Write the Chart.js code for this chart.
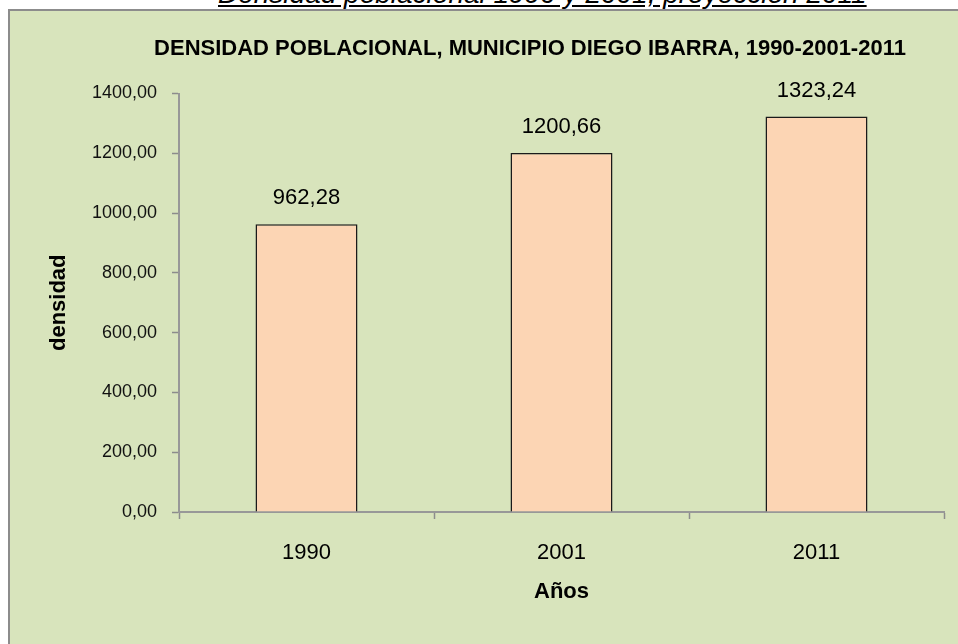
<!DOCTYPE html>
<html>
<head>
<meta charset="utf-8">
<script src="https://cdn.jsdelivr.net/npm/chart.js@4.4.1/dist/chart.umd.min.js"></script>
<style>
    html, body { margin: 0; padding: 0; background: #ffffff; }
    body { width: 958px; height: 644px; position: relative; overflow: hidden; }
    .top-caption {
        position: absolute; left: 218px; top: -20px;
        font: italic 28px "Liberation Sans", Arial, sans-serif;
        text-decoration: underline; white-space: nowrap; color: #000;
        line-height: 28px;
    }
    .frame {
        position: absolute; left: 8px; top: 9px; right: 0; bottom: 0;
        background: #d8e4bc;
        border-left: 2px solid #8c8c8c; border-top: 2px solid #8c8c8c;
    }
    .chart-wrap { position: absolute; left: 0; top: 0; width: 958px; height: 644px; }
</style>
</head>
<body>
<div class="top-caption">Densidad poblacional 1990 y 2001, proyección 2011</div>
<div class="frame"></div>
<div class="chart-wrap"><canvas id="chart-densidad"></canvas></div>
<script>
// Datos del gráfico
const anios = ["1990", "2001", "2011"];
const densidad = [962.28, 1200.66, 1323.24];
const yTicks = [0, 200, 400, 600, 800, 1000, 1200, 1400];

const tituloGrafico = "DENSIDAD POBLACIONAL, MUNICIPIO DIEGO IBARRA, 1990-2001-2011";
const tituloX = "Años";
const tituloY = "densidad";

const fmt = (v) => Number(v).toFixed(2).replace(".", ",");
const FONT = '"Liberation Sans", Arial, sans-serif';

// título del gráfico (en el original no está centrado en el lienzo)
const tituloPlugin = {
    id: "tituloPlugin",
    afterDraw(chart) {
        const ctx = chart.ctx;
        ctx.save();
        ctx.font = "bold 22px " + FONT;
        ctx.fillStyle = "#000";
        ctx.textAlign = "center";
        ctx.textBaseline = "middle";
        ctx.fillText(tituloGrafico, 530, 49);
        ctx.restore();
    }
};

// etiquetas de valor encima de cada barra
const valueLabels = {
    id: "valueLabels",
    afterDatasetsDraw(chart) {
        const ctx = chart.ctx;
        const meta = chart.getDatasetMeta(0);
        ctx.save();
        ctx.font = "22px " + FONT;
        ctx.fillStyle = "#000";
        ctx.textAlign = "center";
        ctx.textBaseline = "middle";
        meta.data.forEach((bar, i) => {
            ctx.fillText(fmt(chart.data.datasets[0].data[i]), bar.x, bar.y - 26);
        });
        ctx.restore();
    }
};

const ctx = document.getElementById("chart-densidad").getContext("2d");
new Chart(ctx, {
    type: "bar",
    data: {
        labels: anios,
        datasets: [{
            label: "densidad",
            data: densidad,
            backgroundColor: "#fcd5b4",
            borderColor: "#1a1a1a",
            borderWidth: 1.5,
            barPercentage: 0.4,
            categoryPercentage: 1
        }]
    },
    plugins: [valueLabels, tituloPlugin],
    options: {
        responsive: true,
        maintainAspectRatio: false,
        animation: false,
        layout: { padding: { left: 0, right: 14, top: 93.5, bottom: 32 } },
        plugins: {
            legend: { display: false },
            tooltip: { enabled: false },
            title: { display: false }
        },
        scales: {
            x: {
                grid: {
                    display: true, drawOnChartArea: false, drawTicks: true,
                    tickLength: 7, tickColor: "#8c8c8c", tickWidth: 1.5, offset: true
                },
                border: { display: true, color: "#989898", width: 2 },
                ticks: { color: "#000", font: { family: FONT, size: 22 }, padding: 21 },
                title: {
                    display: true, text: tituloX, color: "#000",
                    font: { family: FONT, size: 22, weight: "bold" },
                    padding: { top: 0, bottom: 7 }
                },
                afterFit: (scale) => { scale.height = 100; }
            },
            y: {
                min: 0,
                max: 1400,
                afterBuildTicks: (scale) => { scale.ticks = yTicks.map((v) => ({ value: v })); },
                grid: {
                    display: true, drawOnChartArea: false, drawTicks: true,
                    tickLength: 7, tickColor: "#8c8c8c", tickWidth: 1.5
                },
                border: { display: true, color: "#989898", width: 2 },
                ticks: {
                    color: "#111", font: { family: FONT, size: 18 }, padding: 15,
                    callback: (v) => fmt(v)
                },
                title: {
                    display: true, text: tituloY, color: "#000",
                    font: { family: FONT, size: 22, weight: "bold" },
                    padding: { top: 46, bottom: 0 }
                },
                afterFit: (scale) => { scale.width = 179; }
            }
        }
    }
});
</script>
</body>
</html>
